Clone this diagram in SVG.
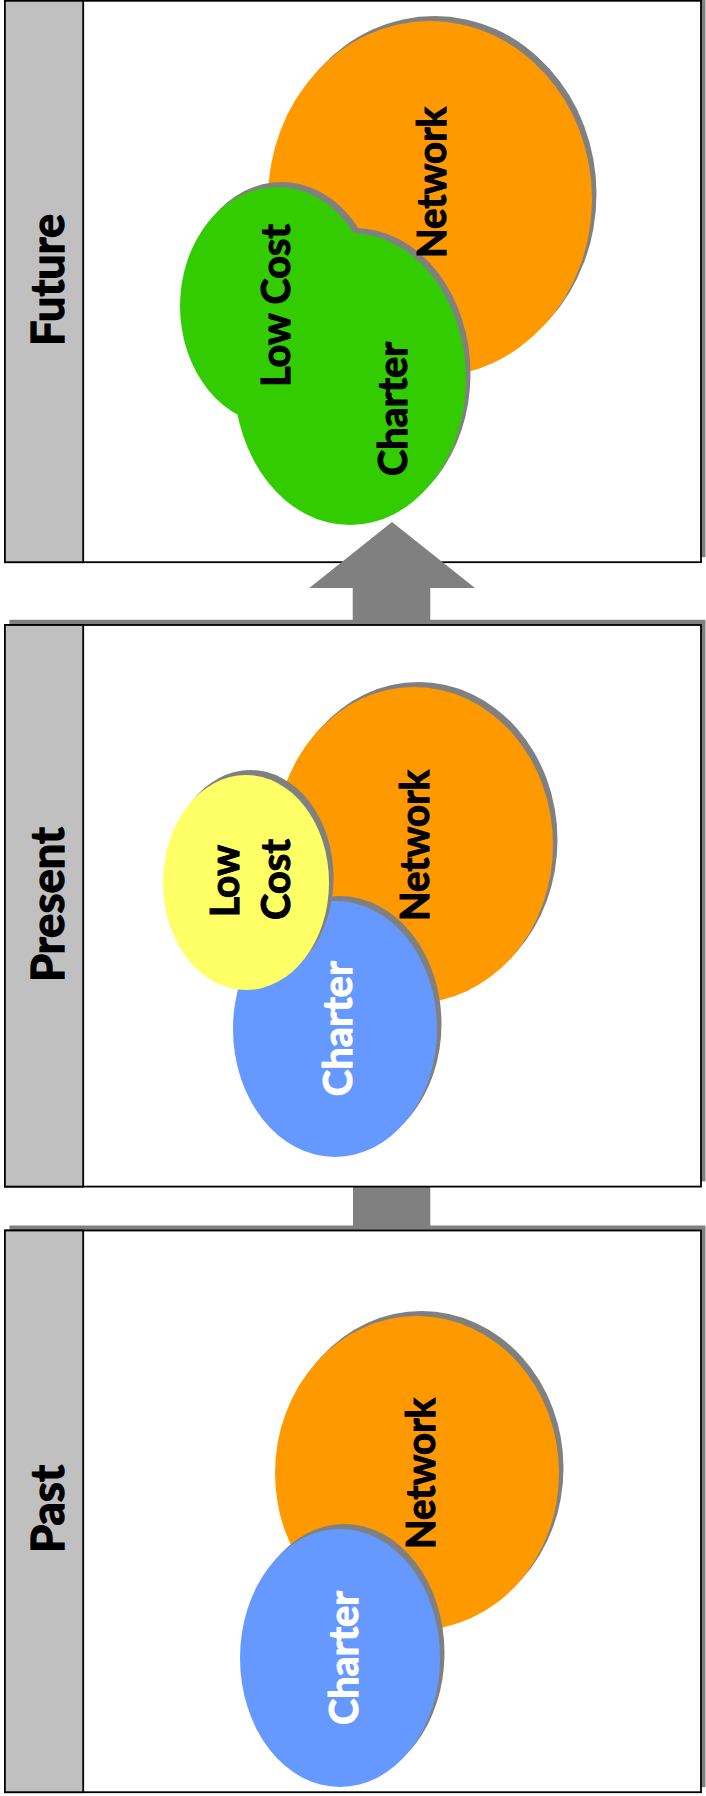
<svg xmlns="http://www.w3.org/2000/svg" width="706" height="1796" viewBox="0 0 706 1796">
<style>
.shadow{fill:#808080}
.box{fill:#FFFFFF;stroke:#000000;stroke-width:1.8}
.col{fill:#C0C0C0;stroke:#000000;stroke-width:1.8}
.net{fill:#FF9900}
.green{fill:#33CC00}
.blue{fill:#6699FF}
.yellow{fill:#FFFF66}
.arrow{fill:#808080}
.lbl{font-family:Lato,"Liberation Sans",sans-serif;font-weight:bold;font-size:45px;fill:#000000;stroke:#000000;stroke-width:1.3;text-anchor:middle}
.t{font-family:Lato,"Liberation Sans",sans-serif;font-weight:bold;font-size:40px;fill:#000000;stroke:#000000;stroke-width:1.1;text-anchor:middle}
.w{fill:#FFFFFF;stroke:#FFFFFF}
</style>
<g id="future">
  <rect class="shadow" x="9.4" y="-4.2" width="696.1" height="561.4"/>
  <rect class="box" x="4.9" y="0.8" width="696.1" height="561.4"/>
  <rect class="col" x="4.9" y="0.8" width="78.3" height="561.4"/>
  <text class="lbl" transform="translate(63.5,280) rotate(-90)" textLength="132" lengthAdjust="spacingAndGlyphs">Future</text>
  <ellipse class="shadow" cx="434.5" cy="194" rx="162" ry="178"/>
  <ellipse class="net" cx="430" cy="199" rx="162" ry="178"/>
  <ellipse class="shadow" cx="281.5" cy="301" rx="97" ry="119"/>
  <ellipse class="shadow" cx="354.5" cy="374" rx="116" ry="146"/>
  <ellipse class="green" cx="277" cy="306" rx="97" ry="119"/>
  <ellipse class="green" cx="350" cy="379" rx="116" ry="146"/>
  <text class="t" transform="translate(446,182.5) rotate(-90)" textLength="151" lengthAdjust="spacingAndGlyphs">Network</text>
  <text class="t" transform="translate(290,305.5) rotate(-90)" textLength="163" lengthAdjust="spacingAndGlyphs">Low Cost</text>
  <text class="t" transform="translate(407,409) rotate(-90)" textLength="134" lengthAdjust="spacingAndGlyphs">Charter</text>
</g>
<g id="connectors">
  <polygon class="arrow" points="392,522 475,588 430.3,588 430.3,622 352.7,622 352.7,588 309.3,588"/>
  <rect class="arrow" x="353" y="1185" width="77.3" height="42"/>
</g>
<g id="present">
  <rect class="shadow" x="9.4" y="619.8" width="696.1" height="561.6"/>
  <rect class="box" x="4.9" y="625" width="696.1" height="561.6"/>
  <rect class="col" x="4.9" y="625" width="78.3" height="561.6"/>
  <text class="lbl" transform="translate(63.5,904.5) rotate(-90)" textLength="155" lengthAdjust="spacingAndGlyphs">Present</text>
  <ellipse class="shadow" cx="418.5" cy="840" rx="139" ry="158"/>
  <ellipse class="net" cx="414" cy="845" rx="139" ry="158"/>
  <ellipse class="shadow" cx="339.5" cy="1024" rx="102" ry="128"/>
  <ellipse class="blue" cx="335" cy="1029" rx="102" ry="128"/>
  <ellipse class="shadow" cx="250.5" cy="877.5" rx="83" ry="107.5"/>
  <ellipse class="yellow" cx="246" cy="882.5" rx="83" ry="107.5"/>
  <text class="t" transform="translate(429,845.5) rotate(-90)" textLength="151" lengthAdjust="spacingAndGlyphs">Network</text>
  <text class="t" transform="translate(238.6,881) rotate(-90)" textLength="72" lengthAdjust="spacingAndGlyphs">Low</text>
  <text class="t" transform="translate(290.4,879.5) rotate(-90)" textLength="81" lengthAdjust="spacingAndGlyphs">Cost</text>
  <text class="t w" transform="translate(352,1028.7) rotate(-90)" textLength="135" lengthAdjust="spacingAndGlyphs">Charter</text>
</g>
<g id="past">
  <rect class="shadow" x="9.4" y="1225.5" width="696.1" height="561.7"/>
  <rect class="box" x="4.9" y="1230.5" width="696.1" height="561.7"/>
  <rect class="col" x="4.9" y="1230.5" width="78.3" height="561.7"/>
  <text class="lbl" transform="translate(63.5,1509) rotate(-90)" textLength="88" lengthAdjust="spacingAndGlyphs">Past</text>
  <ellipse class="shadow" cx="421.5" cy="1468" rx="142" ry="157"/>
  <ellipse class="net" cx="417" cy="1473" rx="142" ry="157"/>
  <ellipse class="shadow" cx="344.5" cy="1653" rx="100" ry="129"/>
  <ellipse class="blue" cx="340" cy="1658" rx="100" ry="129"/>
  <text class="t" transform="translate(434.5,1473.5) rotate(-90)" textLength="151" lengthAdjust="spacingAndGlyphs">Network</text>
  <text class="t w" transform="translate(358,1658) rotate(-90)" textLength="134" lengthAdjust="spacingAndGlyphs">Charter</text>
</g>
</svg>
